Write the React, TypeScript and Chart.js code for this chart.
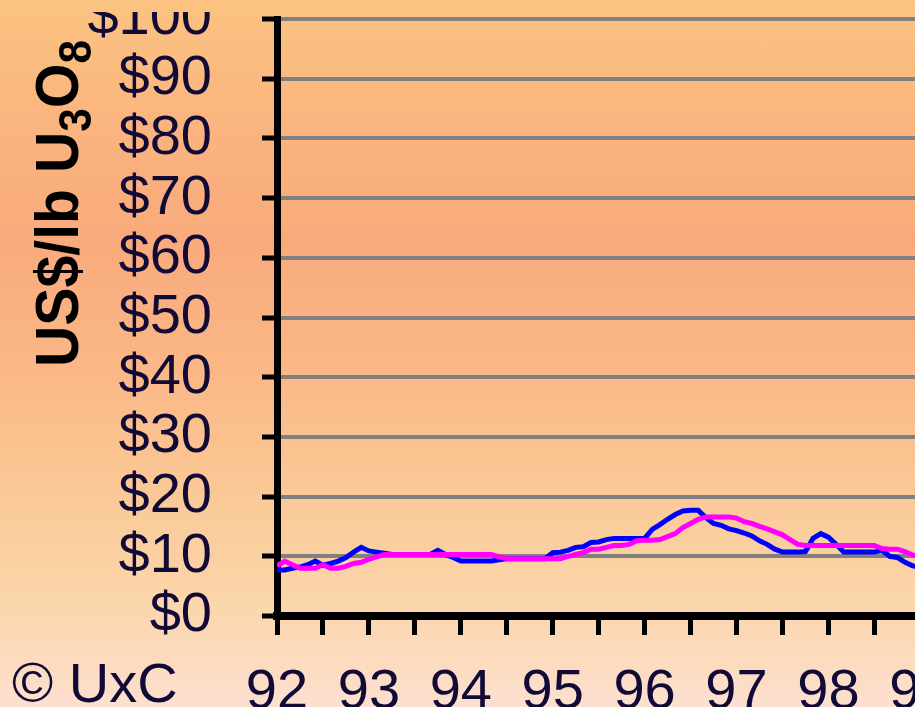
import React, { useEffect, useRef } from 'react';
import { Chart, registerables } from 'chart.js';

Chart.register(...registerables);

// Monthly series starting January 1992
const startYear = 1992;
const monthsPerYear = 12;

// Blue series (spot price, US$/lb U3O8)
const spotPrice = [
  7.7, 7.7, 8.0, 8.2, 8.6, 9.2, 8.5, 8.8, 9.2, 9.8, 10.7, 11.5,
  10.9, 10.7, 10.5, 10.3, 10.3, 10.3, 10.3, 10.3, 10.3, 11.0, 10.3, 9.8,
  9.2, 9.2, 9.2, 9.2, 9.2, 9.4, 9.6, 9.6, 9.6, 9.6, 9.6, 9.6,
  10.6, 10.7, 11.0, 11.5, 11.6, 12.3, 12.4, 12.8, 13.0, 13.0, 13.0, 13.0,
  13.0, 14.5, 15.3, 16.2, 17.0, 17.6, 17.7, 17.7, 16.5, 15.5, 15.2, 14.6,
  14.3, 13.9, 13.4, 12.6, 12.0, 11.2, 10.7, 10.7, 10.7, 10.8, 13.0, 13.8,
  13.2, 12.0, 10.7, 10.7, 10.7, 10.7, 10.7, 11.0, 10.0, 9.8, 9.0, 8.4,
  8.2, 8.0,
];

// Magenta series (term price, US$/lb U3O8)
const termPrice = [
  8.4, 9.2, 8.6, 8.0, 8.0, 8.0, 8.6, 8.0, 8.0, 8.3, 8.8, 9.0,
  9.5, 9.9, 10.3, 10.3, 10.3, 10.3, 10.3, 10.3, 10.3, 10.3, 10.3, 10.3,
  10.3, 10.3, 10.3, 10.3, 10.3, 9.9, 9.6, 9.6, 9.6, 9.6, 9.6, 9.6,
  9.6, 9.6, 10.0, 10.3, 10.6, 11.2, 11.2, 11.5, 11.8, 11.8, 12.0, 12.6,
  12.7, 12.7, 12.8, 13.3, 13.8, 14.8, 15.5, 16.2, 16.6, 16.6, 16.6, 16.6,
  16.4, 15.8, 15.5, 15.0, 14.6, 14.1, 13.6, 12.8, 12.0, 11.8, 11.8, 11.8,
  11.8, 11.8, 11.8, 11.8, 11.8, 11.8, 11.8, 11.3, 11.2, 11.2, 10.8, 10.2,
  10.0, 10.0,
];

const yearLabels = ['92', '93', '94', '95', '96', '97', '98', '99', '00'];
const yTickValues = [0, 10, 20, 30, 40, 50, 60, 70, 80, 90, 100];
const titleParts = ['US$/lb U', '3', 'O', '8'];
const titleIsSub = [false, true, false, true];
const creditText = '\u00A9 UxC';

const FONT = "'Liberation Sans', Arial, sans-serif";
const TEXT_COLOR = '#120a36';

const CANVAS_W = 1040;
const CANVAS_H = 695;
const PLOT_LEFT = 277;
const PLOT_BOTTOM = 604;
const X_TICK_LEN = 19;
const X_TICK_PAD = 24;

const toPoints = (vals: number[]) =>
  vals.map((v, i) => ({ x: startYear + i / monthsPerYear, y: v }));

const decorPlugin = {
  id: 'decor',
  afterDraw(chart: any) {
    const ctx = chart.ctx;
    // rotated axis title with subscripts
    ctx.save();
    ctx.fillStyle = '#000';
    ctx.textBaseline = 'alphabetic';
    ctx.textAlign = 'left';
    const mainFont = `bold 62px ${FONT}`;
    const subFont = `bold 46px ${FONT}`;
    let total = 0;
    const widths: number[] = [];
    titleParts.forEach((p, i) => {
      ctx.font = titleIsSub[i] ? subFont : mainFont;
      const w = ctx.measureText(p).width;
      widths.push(w);
      total += w;
    });
    const targetLen = 327;
    ctx.translate(78, 355);
    ctx.rotate(-Math.PI / 2);
    ctx.scale(targetLen / total, 1);
    let pos = 0;
    titleParts.forEach((p, i) => {
      ctx.font = titleIsSub[i] ? subFont : mainFont;
      ctx.fillText(p, pos, titleIsSub[i] ? 13 : 0);
      pos += widths[i];
    });
    ctx.restore();

    // credit text
    ctx.save();
    ctx.fillStyle = TEXT_COLOR;
    ctx.font = `56px ${FONT}`;
    ctx.textBaseline = 'top';
    ctx.textAlign = 'left';
    ctx.fillText(creditText, 12, chart.chartArea.bottom + X_TICK_LEN + X_TICK_PAD);
    ctx.restore();
  },
};

export default function App() {
  const canvasRef = useRef<HTMLCanvasElement | null>(null);

  useEffect(() => {
    const canvas = canvasRef.current;
    if (!canvas) return;
    const chart = new Chart(canvas, {
      type: 'line',
      data: {
        datasets: [
          {
            label: 'Term',
            data: toPoints(termPrice),
            borderColor: '#ff00ff',
            borderWidth: 5,
            pointRadius: 0,
            tension: 0,
            fill: false,
          },
          {
            label: 'Spot',
            data: toPoints(spotPrice),
            borderColor: '#0000ff',
            borderWidth: 5,
            pointRadius: 0,
            tension: 0,
            fill: false,
          },
        ],
      },
      options: {
        responsive: false,
        animation: false,
        events: [],
        layout: {
          padding: { top: 7, right: CANVAS_W - (PLOT_LEFT + 8 * 91.9), left: 0, bottom: 0 },
        },
        plugins: {
          legend: { display: false },
          tooltip: { enabled: false },
          title: { display: false },
        },
        scales: {
          x: {
            type: 'linear',
            min: 1992,
            max: 2000,
            afterFit: (s: any) => {
              s.height = CANVAS_H - PLOT_BOTTOM;
              s.paddingLeft = 0;
              s.paddingRight = 0;
            },
            afterBuildTicks: (s: any) => {
              const t = [];
              for (let v = 1992; v <= 2000; v += 0.5) t.push({ value: v });
              s.ticks = t;
            },
            ticks: {
              autoSkip: false,
              maxRotation: 0,
              padding: X_TICK_PAD,
              color: TEXT_COLOR,
              font: { family: FONT, size: 56 },
              callback: (v: any) => {
                const n = Number(v);
                if (Math.abs(n - Math.round(n)) > 1e-6) return '';
                return yearLabels[Math.round(n) - 1992] ?? '';
              },
            },
            grid: {
              display: true,
              drawOnChartArea: false,
              drawTicks: true,
              tickLength: X_TICK_LEN,
              tickWidth: 5,
              tickColor: '#000',
            },
            border: { display: true, color: '#000', width: 8 },
          },
          y: {
            min: 0,
            max: 100,
            afterFit: (s: any) => {
              s.width = PLOT_LEFT;
              s.paddingTop = 0;
              s.paddingBottom = 0;
            },
            afterBuildTicks: (s: any) => {
              s.ticks = yTickValues.map((v) => ({ value: v }));
            },
            ticks: {
              autoSkip: false,
              padding: 50,
              color: TEXT_COLOR,
              font: { family: FONT, size: 56 },
              callback: (v: any) => '$' + v,
            },
            grid: {
              color: '#808080',
              lineWidth: 4,
              tickLength: 15,
              tickWidth: 5,
              tickColor: '#000',
            },
            border: { display: true, color: '#000', width: 7 },
          },
        },
      },
      plugins: [decorPlugin],
    });
    return () => chart.destroy();
  }, []);

  return (
    <div
      style={{
        position: 'fixed',
        left: 0,
        top: 0,
        width: 915,
        height: 707,
        overflow: 'hidden',
        background:
          'linear-gradient(to bottom, #FBC381 0px, #FAB47E 130px, #F9AA7C 240px, #FAB685 360px, #FAC693 470px, #FBD3A5 580px, #FCDABA 650px, #FCE0D0 707px)',
      }}
    >
      <canvas
        ref={canvasRef}
        width={CANVAS_W}
        height={CANVAS_H}
        style={{ position: 'absolute', left: 0, top: 12, width: CANVAS_W, height: CANVAS_H }}
      />
    </div>
  );
}
